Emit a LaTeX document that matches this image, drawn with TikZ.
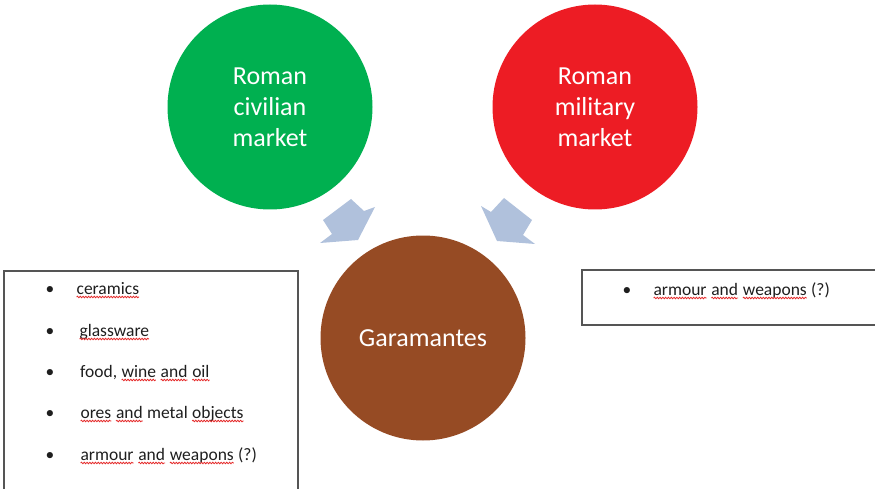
\documentclass[tikz,border=0pt]{standalone}
\usepackage{fontspec}
\setmainfont{Carlito}
\usetikzlibrary{decorations.pathmorphing}
\definecolor{civgreen}{RGB}{0,176,80}
\definecolor{milred}{RGB}{237,28,36}
\definecolor{garbrown}{RGB}{150,75,36}
\definecolor{arrowblue}{RGB}{176,193,220}
\definecolor{spellred}{RGB}{228,40,40}
\definecolor{boxgray}{RGB}{85,85,85}
\definecolor{txt}{RGB}{30,30,30}
\newcommand\spell[1]{\tikz[baseline=(w.base)]{\node[inner sep=0pt,outer sep=0pt] (w) {#1};
  \draw[spellred, line width=0.8pt, decorate, decoration={snake, amplitude=0.75pt, segment length=2.8pt}]
    ([yshift=-3pt]w.base west) -- ([yshift=-3pt]w.base east);}}
\begin{document}
\begin{tikzpicture}[x=1pt,y=-1pt,
  market/.style={circle, minimum size=205pt, inner sep=0pt, draw=none, text=white,
    align=center, font=\fontsize{26}{31}\selectfont},
  listbox/.style={draw=boxgray, line width=1.3pt},
  itemtext/.style={anchor=base west, inner sep=0pt, text=txt, font=\fontsize{17.5}{21}\selectfont},
  bullet/.style={anchor=base, inner sep=0pt, text=txt, font=\fontsize{17.5}{21}\selectfont},
  blockarrow/.style={fill=arrowblue, draw=none}]
\useasboundingbox (0,0) rectangle (875,489);
\clip (0,0) rectangle (875,489);

% circles
\node[market, fill=civgreen] (civ) at (270,107) {Roman\\civilian\\market};
\node[market, fill=milred] (mil) at (595,107) {Roman\\military\\market};
\node[market, fill=garbrown] (gar) at (423,338) {Garamantes};

% block arrows
\fill[blockarrow] (323,220) -- (351,199) -- (364,211) -- (375,207) -- (358,240) -- (320,243) -- (332,234) -- cycle;
\fill[blockarrow] (532,220) -- (504,198) -- (491,212) -- (481,206) -- (497,241) -- (535,244) -- (523,235) -- cycle;

% left box
\draw[listbox] (4,271) rectangle (298,500);
\node[bullet] (lb1) at (50,294) {•};
\node[itemtext] (l1) at (76,294) {\spell{ceramics}};
\node[bullet] (lb2) at (50,336) {•};
\node[itemtext] (l2) at (79,336) {\spell{glassware}};
\node[bullet] (lb3) at (50,377) {•};
\node[itemtext] (l3) at (80,377) {food, \spell{wine} \spell{and} \spell{oil}};
\node[bullet] (lb4) at (50,418) {•};
\node[itemtext] (l4) at (80,418) {\spell{ores} \spell{and} metal \spell{objects}};
\node[bullet] (lb5) at (50,460) {•};
\node[itemtext] (l5) at (80,460) {\spell{armour} \spell{and} \spell{weapons} (?)};

% right box
\draw[listbox] (582,270) rectangle (885,325);
\node[bullet] (rb1) at (627,295) {•};
\node[itemtext] (r1) at (653,295) {\spell{armour} \spell{and} \spell{weapons} (?)};
\end{tikzpicture}
\end{document}
